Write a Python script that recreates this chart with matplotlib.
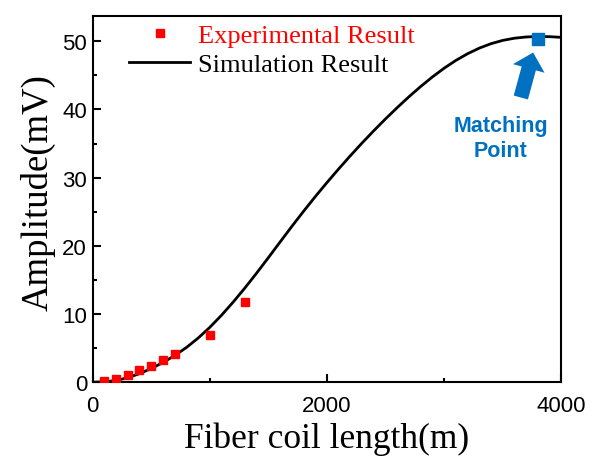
import matplotlib
matplotlib.use("Agg")
import matplotlib.pyplot as plt
from matplotlib.ticker import MultipleLocator
from matplotlib.patches import FancyArrowPatch

# Data
exp_x = [100, 200, 300, 400, 500, 600, 700, 1000, 1300]
exp_y = [0.1, 0.4, 1.0, 1.8, 2.3, 3.2, 4.2, 6.9, 11.8]

sim_x = [0, 100, 200, 300, 400, 500, 600, 700, 800, 900, 1000,
         1100, 1200, 1300, 1400, 1500, 1600, 1700, 1800, 1900, 2000,
         2100, 2200, 2300, 2400, 2500, 2600, 2700, 2800, 2900, 3000,
         3100, 3200, 3300, 3400, 3500, 3600, 3700, 3800, 3900, 4000]
sim_y = [0.00, 0.05, 0.25, 0.65, 1.25, 2.00, 2.88, 3.90, 5.08, 6.46, 8.04,
         9.82, 11.76, 13.83, 16.01, 18.27, 20.57, 22.85, 25.07, 27.22, 29.29,
         31.29, 33.23, 35.10, 36.90, 38.63, 40.29, 41.88, 43.38, 44.78, 46.06,
         47.20, 48.18, 49.00, 49.65, 50.13, 50.45, 50.63, 50.70, 50.67, 50.57]

match_x = [3800]
match_y = [50.4]

xticks = [0, 2000, 4000]
yticks = [0, 10, 20, 30, 40, 50]

serif = "Liberation Serif"
sans = "Liberation Sans"
blue = "#0070C0"

fig = plt.figure(figsize=(6.09, 4.60), dpi=100)
ax = fig.add_axes([0.152, 0.167, 0.770, 0.796])

ax.plot(sim_x, sim_y, color="black", lw=2.0, label="Simulation Result",
        zorder=2, solid_joinstyle="round")
ax.plot(exp_x, exp_y, ls="none", marker="s", ms=5.8, color="red",
        label="Experimental Result", zorder=3)
ax.plot(match_x, match_y, ls="none", marker="s", ms=8.6, color=blue, zorder=4)

ax.set_xlim(0, 4000)
ax.set_ylim(0, 53.7)
ax.set_xticks(xticks)
ax.set_yticks(yticks)
ax.xaxis.set_minor_locator(MultipleLocator(1000))
ax.yaxis.set_minor_locator(MultipleLocator(5))
ax.tick_params(which="both", direction="in", top=False, right=False, width=1.5)
ax.tick_params(which="major", length=6, labelsize=16, pad=4)
ax.tick_params(axis="x", which="major", pad=9)
ax.tick_params(which="minor", length=3)
for lab in ax.get_xticklabels() + ax.get_yticklabels():
    lab.set_fontfamily(sans)
for sp in ax.spines.values():
    sp.set_linewidth(1.5)

ax.set_xlabel("Fiber coil length(m)", fontfamily=serif, fontsize=25.5, labelpad=4)
ax.set_ylabel("Amplitude(mV)", fontfamily=serif, fontsize=26.5)
ax.yaxis.set_label_coords(-0.079, 0.521)

handles, labels = ax.get_legend_handles_labels()
order = [1, 0]
leg = ax.legend([handles[i] for i in order], [labels[i] for i in order],
                loc="upper left", bbox_to_anchor=(0.056, 1.008), frameon=False,
                prop={"family": serif, "size": 19}, handlelength=2.3,
                handletextpad=0.3, labelspacing=0.2, numpoints=1,
                borderaxespad=0)
for t, c in zip(leg.get_texts(), ["red", "black"]):
    t.set_color(c)

arrow = FancyArrowPatch((3653, 41.75), (3758, 48.35),
                        arrowstyle="simple,head_length=1.19,head_width=2.35,tail_width=1.06",
                        mutation_scale=10, color=blue, lw=0, zorder=5,
                        shrinkA=0, shrinkB=0)
ax.add_patch(arrow)
ax.text(3482, 35.8, "Matching\nPoint", color=blue, fontfamily=sans,
        fontweight="bold", fontsize=15.5, ha="center", va="center",
        linespacing=1.2)

fig.savefig("out.png", dpi=100)
